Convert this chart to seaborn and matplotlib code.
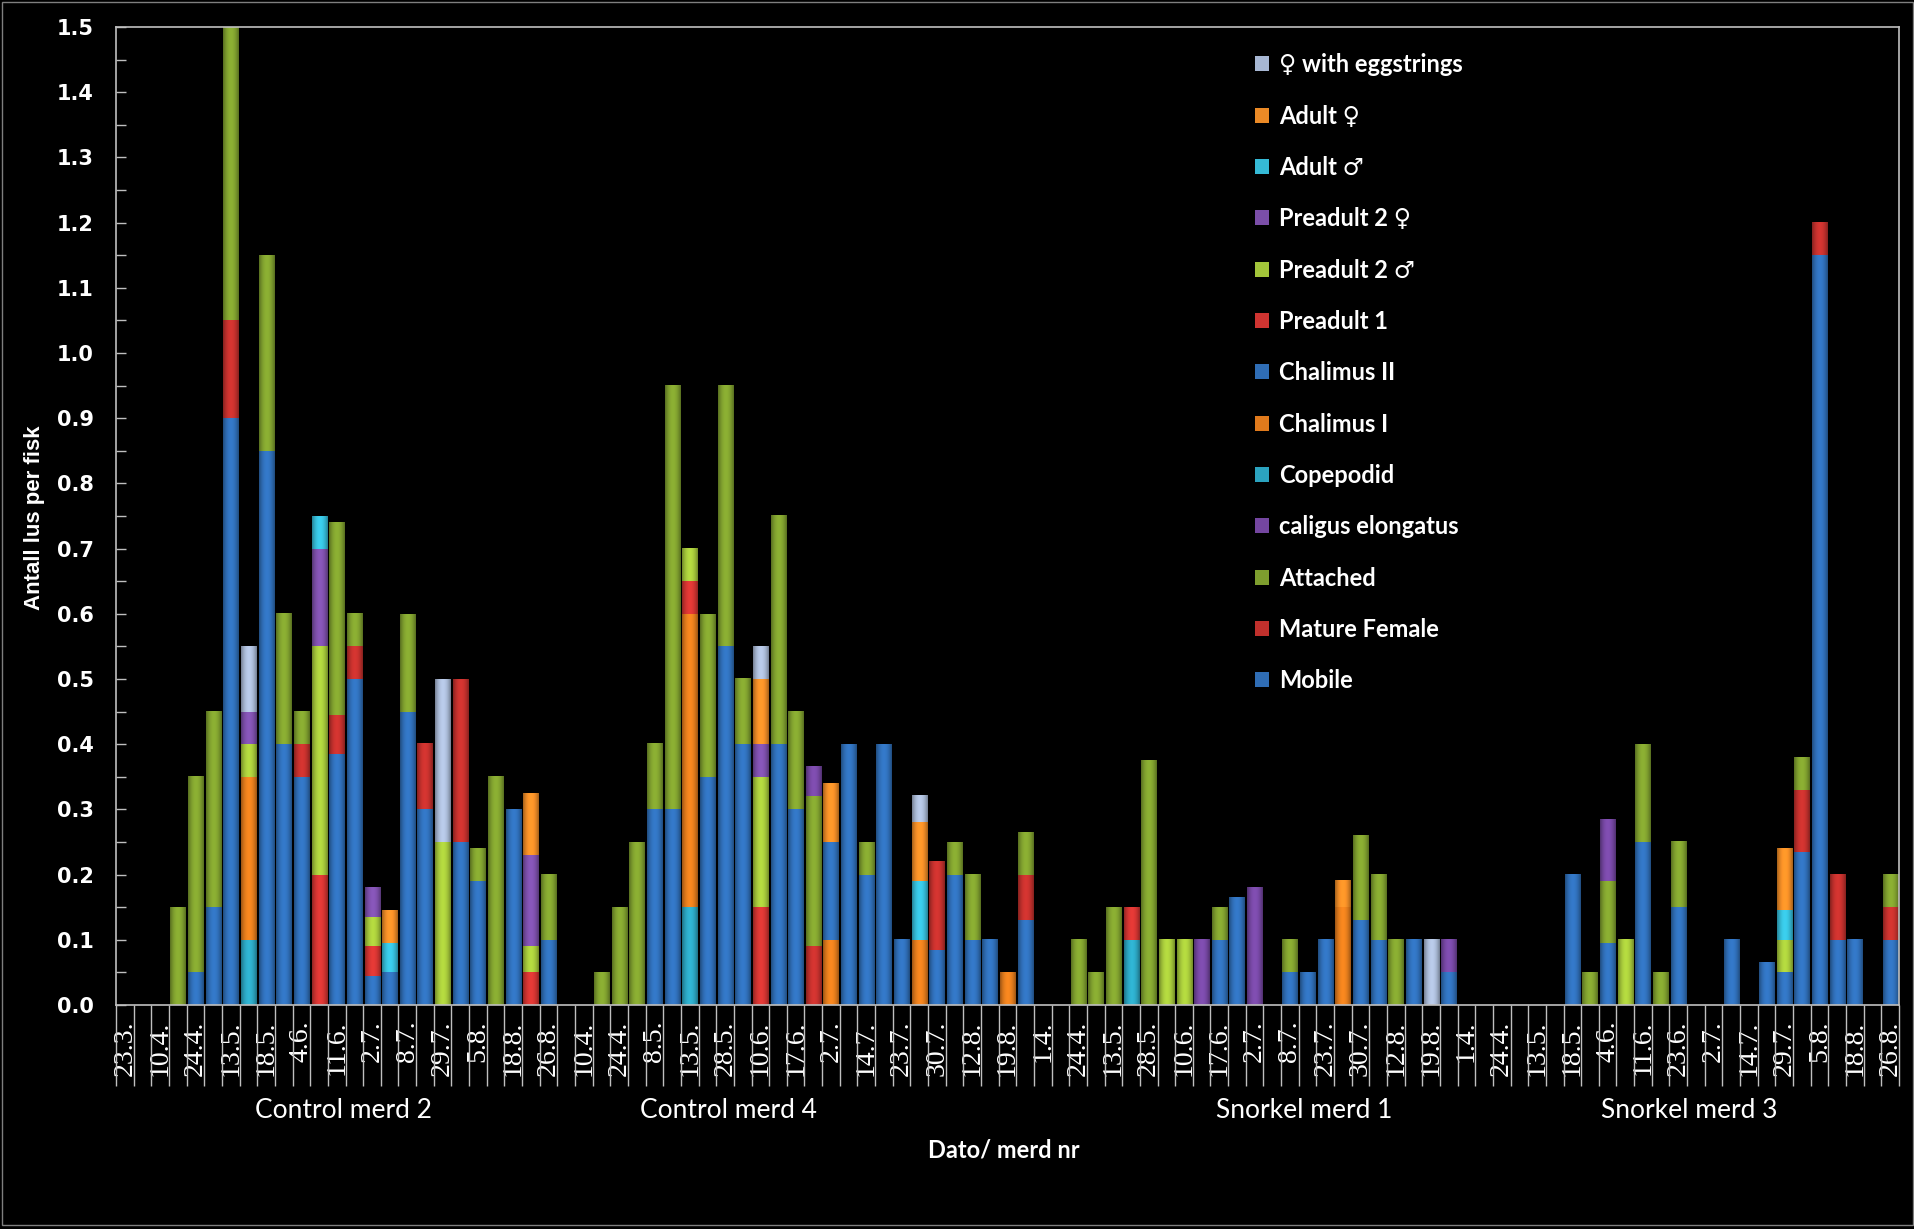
import numpy as np
import pandas as pd
import matplotlib
matplotlib.use("Agg")
import matplotlib.pyplot as plt
import matplotlib.transforms as mtransforms
from matplotlib.patches import Patch, Rectangle
from matplotlib.colors import to_rgb
import seaborn as sns

# categories: 101 sampling dates, 4 net pens; every other date is labelled
n_cat = 101
date_labels = ["23.3.", "10.4.", "24.4.", "13.5.", "18.5.", "4.6.", "11.6.", "2.7.", "8.7.",
               "29.7.", "5.8.", "18.8.", "26.8.",
               "10.4.", "24.4.", "8.5.", "13.5.", "28.5.", "10.6.", "17.6.", "2.7.", "14.7.",
               "23.7.", "30.7.", "12.8.", "19.8.",
               "1.4.", "24.4.", "13.5.", "28.5.", "10.6.", "17.6.", "2.7.", "8.7.", "23.7.",
               "30.7.", "12.8.", "19.8.",
               "1.4.", "24.4.", "13.5.", "18.5.", "4.6.", "11.6.", "23.6.", "2.7.", "14.7.",
               "29.7.", "5.8.", "18.8.", "26.8."]
group_names = ["Control merd 2", "Control merd 4", "Snorkel merd 1", "Snorkel merd 3"]
group_label_pos = [12.4, 34.2, 66.8, 88.6]

# legend order (top of stack first)
series_names = ["\u2640 with eggstrings", "Adult \u2640", "Adult \u2642", "Preadult 2 \u2640",
                "Preadult 2 \u2642", "Preadult 1", "Chalimus II", "Chalimus I", "Copepodid",
                "caligus elongatus", "Attached", "Mature Female", "Mobile"]

# values per stage, keyed by category position (lice per fish)
mobile = {4: 0.05, 5: 0.15, 6: 0.90, 8: 0.85, 9: 0.40, 10: 0.35, 12: 0.385, 13: 0.50, 16: 0.45,
          17: 0.30, 19: 0.25, 20: 0.19, 22: 0.30, 24: 0.10, 30: 0.30, 31: 0.30, 33: 0.35,
          34: 0.55, 35: 0.40, 37: 0.40, 38: 0.30, 41: 0.40, 42: 0.20, 43: 0.40, 44: 0.10,
          46: 0.085, 47: 0.20, 48: 0.10, 49: 0.10, 51: 0.13, 62: 0.10, 63: 0.165, 66: 0.05,
          67: 0.05, 68: 0.10, 70: 0.13, 71: 0.10, 73: 0.10, 75: 0.05, 82: 0.20, 84: 0.095,
          86: 0.25, 88: 0.15, 91: 0.10, 93: 0.065, 95: 0.235, 96: 1.15, 97: 0.10, 98: 0.10,
          100: 0.10}
mature_female = {6: 0.15, 10: 0.05, 12: 0.06, 13: 0.05, 17: 0.10, 19: 0.25, 39: 0.09,
                 46: 0.135, 51: 0.07, 95: 0.095, 96: 0.05, 97: 0.10, 100: 0.05}
attached = {3: 0.15, 4: 0.30, 5: 0.30, 6: 0.45, 8: 0.30, 9: 0.20, 10: 0.05, 12: 0.295,
            13: 0.05, 16: 0.15, 20: 0.05, 21: 0.35, 24: 0.10, 27: 0.05, 28: 0.15, 29: 0.25,
            30: 0.10, 31: 0.65, 33: 0.25, 34: 0.40, 35: 0.10, 37: 0.35, 38: 0.15, 39: 0.23,
            42: 0.05, 47: 0.05, 48: 0.10, 51: 0.065, 54: 0.10, 55: 0.05, 56: 0.15, 58: 0.375,
            62: 0.05, 66: 0.05, 70: 0.13, 71: 0.10, 72: 0.10, 83: 0.05, 84: 0.095, 86: 0.15,
            87: 0.05, 88: 0.10, 95: 0.05, 100: 0.05}
caligus = {39: 0.045, 61: 0.10, 64: 0.18, 75: 0.05, 84: 0.095}
copepodid = {7: 0.10, 32: 0.15, 57: 0.10}
chalimus_1 = {7: 0.25, 32: 0.45, 40: 0.10, 45: 0.10, 50: 0.05, 69: 0.15}
chalimus_2 = {14: 0.045, 15: 0.05, 40: 0.15, 94: 0.05}
preadult_1 = {11: 0.20, 14: 0.045, 23: 0.05, 32: 0.05, 36: 0.15, 57: 0.05}
preadult_2m = {7: 0.05, 11: 0.35, 14: 0.045, 18: 0.25, 23: 0.04, 32: 0.05, 36: 0.20,
               59: 0.10, 60: 0.10, 85: 0.10, 94: 0.05}
preadult_2f = {7: 0.05, 11: 0.15, 14: 0.045, 23: 0.14, 36: 0.05}
adult_m = {11: 0.05, 15: 0.045, 45: 0.09, 94: 0.045}
adult_f = {15: 0.05, 23: 0.095, 36: 0.10, 40: 0.09, 45: 0.09, 69: 0.04, 94: 0.095}
eggstrings = {7: 0.10, 18: 0.25, 36: 0.05, 45: 0.04, 74: 0.10}

stage_values = dict(zip(series_names, [eggstrings, adult_f, adult_m, preadult_2f, preadult_2m,
                                       preadult_1, chalimus_2, chalimus_1, copepodid, caligus,
                                       attached, mature_female, mobile]))

palette = dict(zip(series_names, ["#A7B7D3", "#EB8A26", "#35BAD6", "#7B4EA8", "#A3C53A",
                                  "#CF3431", "#2F6DB5", "#E07A1C", "#2BA3BF", "#7446A0",
                                  "#7E9E2E", "#C0302C", "#2F6DB5"]))

rows = []
for name in series_names:
    vals = np.zeros(n_cat)
    for k, v in stage_values[name].items():
        vals[k] = v
    for i in range(n_cat):
        rows.append((i, name, vals[i]))
df = pd.DataFrame(rows, columns=["cat", "stage", "antall"])

sns.set_style("dark")
fig, ax = plt.subplots(figsize=(19.15, 12.29), dpi=100)
fig.patch.set_facecolor("black")
ax.set_facecolor("black")
fig.subplots_adjust(left=0.0606, right=0.9916, bottom=0.1823, top=0.978)

sns.histplot(data=df, x="cat", weights="antall", hue="stage", hue_order=series_names,
             multiple="stack", discrete=True, shrink=0.85, palette=palette, alpha=1,
             linewidth=0, legend=False, ax=ax)

# cylinder-like shading on every bar segment (darker edges, lighter middle)
t = np.linspace(-1, 1, 40)
profile = 0.7 + 0.42 * (1 - t ** 2)
for p in list(ax.patches):
    h = p.get_height()
    if h <= 0:
        continue
    x0, y0, w = p.get_x(), p.get_y(), p.get_width()
    rgb = np.array(to_rgb(p.get_facecolor()))
    img = np.clip(profile[None, :, None] * rgb[None, None, :], 0, 1)
    ax.imshow(img, extent=(x0, x0 + w, y0, y0 + h), aspect="auto", origin="lower",
              interpolation="bilinear", zorder=p.get_zorder() + 0.1)
    p.set_visible(False)

ax.set_xlim(-0.5, n_cat - 0.5)
ax.set_ylim(0, 1.5)
ax.set_aspect("auto")
ax.grid(False)
ax.set_xlabel("")
ax.set_ylabel("")

yt = np.round(np.arange(0, 1.51, 0.1), 1)
ax.set_yticks(yt)
ax.set_yticklabels([f"{v:.1f}" for v in yt], fontweight="bold", fontfamily="DejaVu Sans",
                   fontsize=15, color="white")
ax.set_yticks(np.arange(0.05, 1.5, 0.1), minor=True)
ax.tick_params(axis="y", which="both", direction="in", length=7, width=1, color="#BFBFBF",
               pad=16, left=True)

ax.set_xticks(range(0, n_cat, 2))
ax.set_xticklabels(date_labels, rotation=90, fontfamily="Liberation Serif", fontsize=20,
                   color="white", va="top")
ax.set_xticks(np.arange(-0.5, n_cat, 1), minor=True)
ax.tick_params(axis="x", which="major", length=0, pad=11)
ax.tick_params(axis="x", which="minor", direction="out", length=58, width=1,
               color="#BFBFBF", bottom=True)

for sp in ax.spines.values():
    sp.set_visible(True)
    sp.set_color("#BFBFBF")
    sp.set_linewidth(1.2)

trans = mtransforms.blended_transform_factory(ax.transData, ax.transAxes)
for name, pos in zip(group_names, group_label_pos):
    ax.text(pos, -0.108, name, transform=trans, ha="center", va="center", color="white",
            fontsize=19, fontfamily=["Lato", "DejaVu Sans"])

fig.text(0.524, 0.0643, "Dato/ merd nr", ha="center", va="center", color="white",
         fontsize=17, fontweight="bold", fontfamily=["Lato", "DejaVu Sans"])
fig.text(0.0178, 0.579, "Antall lus per fisk", ha="center", va="center", rotation=90,
         color="white", fontsize=16, fontweight="bold", fontfamily="Liberation Sans")

handles = [Patch(facecolor=palette[n], edgecolor="none", label=n) for n in series_names]
ax.legend(handles=handles, loc="upper left", bbox_to_anchor=(0.627, 0.995), frameon=False,
          labelcolor="white", prop={"family": ["Lato", "DejaVu Sans"], "weight": "bold",
                                    "size": 17},
          handlelength=0.6, handleheight=0.6, handletextpad=0.4, labelspacing=1.2)

fig.patches.append(Rectangle((0.001, 0.003), 0.998, 0.995, transform=fig.transFigure,
                             fill=False, edgecolor="#7F7F7F", linewidth=1))

fig.savefig("out.png", dpi=100, facecolor="black")
